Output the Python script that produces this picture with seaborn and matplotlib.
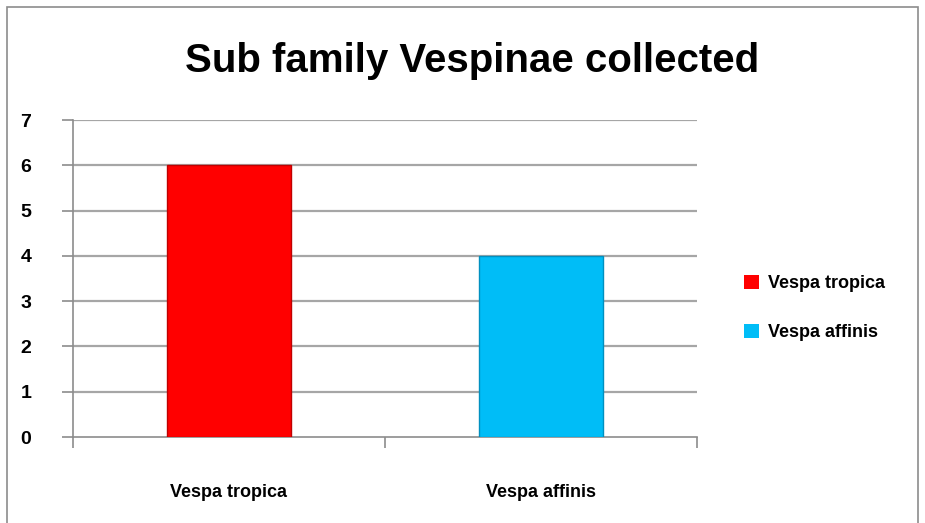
import matplotlib
matplotlib.use("Agg")
import matplotlib.pyplot as plt
import seaborn as sns
import pandas as pd
from matplotlib.patches import Rectangle

# chart data
species = ["Vespa tropica", "Vespa affinis"]
counts = [6, 4]
colours = ["#FF0000", "#00BDF7"]
edges = ["#C00000", "#0090C0"]
y_ticks = [0, 1, 2, 3, 4, 5, 6, 7]

sns.set_style("white")
plt.rcParams["font.family"] = ["Liberation Sans", "DejaVu Sans"]
plt.rcParams["text.color"] = "black"
plt.rcParams["xtick.color"] = "black"
plt.rcParams["ytick.color"] = "black"

df = pd.DataFrame({"species": species, "count": counts})

fig = plt.figure(figsize=(9.25, 5.23), dpi=100)
ax = fig.add_axes([73 / 925, 1 - 437 / 523, 624 / 925, 317 / 523])

sns.barplot(data=df, x="species", y="count", hue="species",
            palette=colours, width=0.4, dodge=False, ax=ax,
            saturation=1, linewidth=1, zorder=3, legend=False)
for bar, ec in zip(ax.patches, edges):
    bar.set_edgecolor(ec)

ax.set_ylim(0, 7)
ax.set_yticks(y_ticks)
ax.set_xlim(-0.5, 1.5)
ax.set_xlabel("")
ax.set_ylabel("")

for v in y_ticks[1:]:
    ax.axhline(v, color="#A6A6A6", lw=1.6, zorder=1)

for s in ["top", "right"]:
    ax.spines[s].set_visible(False)
for s in ["left", "bottom"]:
    ax.spines[s].set_color("#8C8C8C")
    ax.spines[s].set_linewidth(1.2)

ax.tick_params(axis="y", length=8, width=1.2, color="#8C8C8C", pad=22,
               labelsize=14, left=True, labelcolor="black")
ax.tick_params(axis="x", length=0, pad=34, labelsize=13, labelcolor="black")
for lab in ax.get_yticklabels() + ax.get_xticklabels():
    lab.set_fontweight("bold")

# x-axis ticks sit on category boundaries
ax.set_xticks([-0.5, 0.5, 1.5], minor=True)
ax.tick_params(axis="x", which="minor", length=8, width=1.2, color="#8C8C8C",
               bottom=True)

fig.text(472 / 925, 1 - 61 / 523, "Sub family Vespinae collected",
         fontsize=29, fontweight="bold", ha="center", va="center",
         color="black")

handles = [Rectangle((0, 0), 1, 1, facecolor=c, edgecolor="none") for c in colours]
ax.legend(handles, species, loc="center left", bbox_to_anchor=(1.05, 0.407),
          frameon=False, prop={"weight": "bold", "size": 13},
          handlelength=0.8, handleheight=0.8, handletextpad=0.5,
          labelspacing=1.75)

fig.patches.append(Rectangle((7 / 925, -0.05), 911 / 925, 1 - 7 / 523 + 0.05,
                             transform=fig.transFigure, fill=False,
                             edgecolor="#8C8C8C", lw=1.2))

fig.savefig("out.png", dpi=100, facecolor="white")
